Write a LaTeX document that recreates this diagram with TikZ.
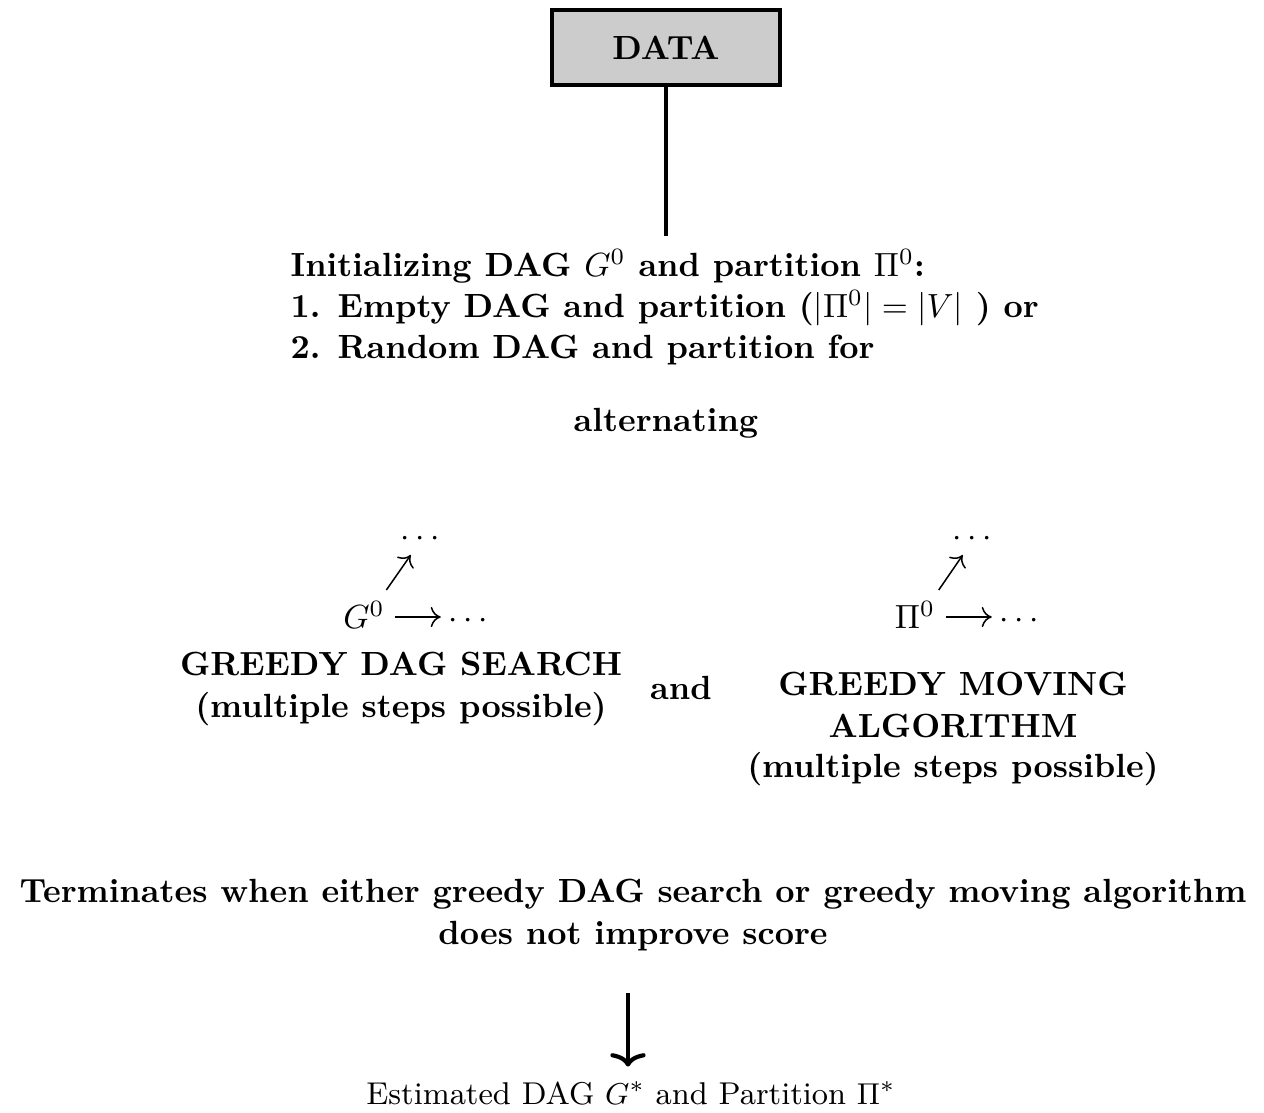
\documentclass[tikz,border=0pt]{standalone}
\usetikzlibrary{arrows.meta,calc}
\begin{document}
\begin{tikzpicture}[x=0.2983pt,y=-0.2983pt,
  txt/.style={inner sep=0pt,font=\bfseries,anchor=base},
  plain/.style={inner sep=0pt,anchor=base},
  databox/.style={draw,line width=1.2pt,fill=gray!40,minimum width=228*0.2983pt,
    minimum height=75*0.2983pt,font=\bfseries,inner sep=0pt},
  stem/.style={line width=0.9pt},
  small/.style={-{Computer Modern Rightarrow[length=3pt,width=6pt]},line width=0.45pt},
  bigarrow/.style={-{Computer Modern Rightarrow[length=4pt,width=10.5pt]},line width=1.25pt}]
\useasboundingbox (0,0) rectangle (1264,1113);

% input box and its stem
\node[databox] (data) at (666,47.5) {DATA};
\coordinate (stemend) at (666,236);
\draw[stem] (data.south) -- (stemend);

% initialisation
\node[txt,anchor=base west] (init1) at (290,277) {Initializing DAG $G^0$ and partition $\Pi^0$:};
\node[txt,anchor=base west] (init2) at (290,318) {1. Empty DAG and partition ($|\Pi^0| = |V|$ ) or};
\node[txt,anchor=base west] (init3) at (290,359) {2. Random DAG and partition for};
\node[txt] (alt) at (666,432) {alternating};

% DAG search step
\node[plain] (g0) at (364,629) {$G^0$};
\node[plain] (gright) at (468,629) {$\cdots$};
\node[plain] (gup) at (420,547) {$\cdots$};
\draw[small] ($(g0.base east)+(10,-12)$) -- ($(gright.base west)+(-7,-12)$);
\draw[small] ($(g0.base east)+(1,-39)$) -- ($(gup.base west)+(11,8)$);
\node[txt] (dag1) at (401,676) {GREEDY DAG SEARCH};
\node[txt] (dag2) at (401,718) {(multiple steps possible)};

\node[txt] (and) at (681,700) {and};

% partition moving step
\node[plain] (p0) at (915,629) {$\Pi^0$};
\node[plain] (pright) at (1019,629) {$\cdots$};
\node[plain] (pup) at (972,547) {$\cdots$};
\draw[small] ($(p0.base east)+(10,-12)$) -- ($(pright.base west)+(-7,-12)$);
\draw[small] ($(p0.base east)+(3,-39)$) -- ($(pup.base west)+(11,8)$);
\node[txt] (mov1) at (953,696) {GREEDY MOVING};
\node[txt] (mov2) at (953,738) {ALGORITHM};
\node[txt] (mov3) at (953,778) {(multiple steps possible)};

% stopping rule and result
\node[txt] (term1) at (633,903) {Terminates when either greedy DAG search or greedy moving algorithm};
\node[txt] (term2) at (633,945) {does not improve score};
\coordinate (arrtop) at (628,993);
\node[plain,font=\fontsize{9.4}{11}\selectfont] (result) at (631,1105) {Estimated DAG $G^*$ and Partition $\Pi^*$};
\draw[bigarrow] (arrtop) -- ($(result.north)+(-3,-14)$);
\end{tikzpicture}
\end{document}
